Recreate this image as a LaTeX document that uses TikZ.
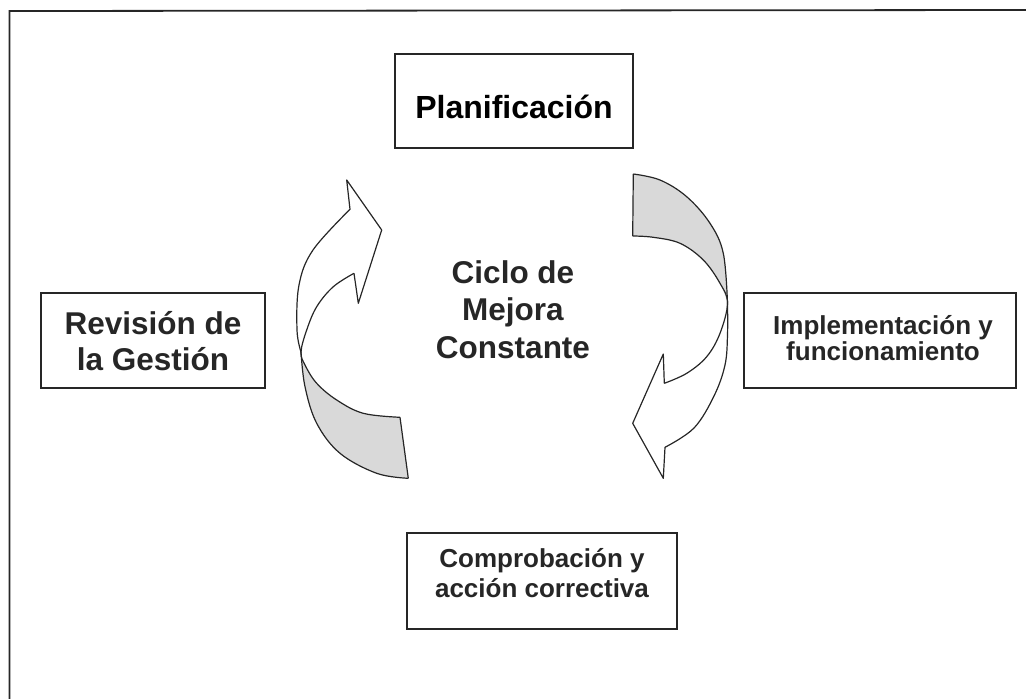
\documentclass[tikz,border=0pt]{standalone}
\usepackage{fontspec}
\setmainfont{Liberation Sans}
\begin{document}
\begin{tikzpicture}[x=1pt,y=-1pt,
  box/.style={draw=black!85,line width=1.3pt,inner sep=0pt},
  lbl/.style={anchor=base,inner sep=0pt,text=black!85,font=\bfseries\fontsize{31.5}{36}\selectfont},
  lblsm/.style={anchor=base,inner sep=0pt,text=black!85,font=\bfseries\fontsize{26}{30}\selectfont},
  arrowline/.style={draw=black!85,line width=1.2pt,line join=round},
  band/.style={fill=black!15}]
\useasboundingbox (0,0) rectangle (1026,699);
% open frame
\coordinate (fTL) at (9.5,11);
\coordinate (fTR) at (1026,10);
\coordinate (fBL) at (9.5,699);
\draw[line width=1.8pt,black!85] (fTR) -- (fTL) -- (fBL);

% boxes
\node[box,minimum width=238,minimum height=94] (plan) at (514,101) {};
\node[anchor=base,inner sep=0pt,font=\bfseries\fontsize{32}{36}\selectfont] (plant) at (514,118) {Planificación};

\node[box,minimum width=224,minimum height=95] (rev) at (153,340.5) {};
\node[lbl] (rev1) at (153,334) {Revisión de};
\node[lbl] (rev2) at (153,370) {la Gestión};

\node[box,minimum width=272,minimum height=95] (imp) at (880,340.5) {};
\node[lblsm] (imp1) at (883,334) {Implementación y};
\node[lblsm] (imp2) at (883,360) {funcionamiento};

\node[box,minimum width=270,minimum height=96] (comp) at (542,581) {};
\node[lblsm] (comp1) at (542,567) {Comprobación y};
\node[lblsm] (comp2) at (542,597) {acción correctiva};

\node[lbl] (cic1) at (513,283) {Ciclo de};
\node[lbl] (cic2) at (513,320.5) {Mejora};
\node[lbl] (cic3) at (513,358) {Constante};

% left arrow (up, toward Planificacion)
\coordinate (LC) at (301,352);
\coordinate (LB1) at (408.3,478.3);
\coordinate (LB2) at (400,417.3);
\fill[band] plot[smooth,tension=0.6] coordinates {(408.3,478.3) (376.7,473.3) (340,453.3) (316.7,423.3) (305,386.7) (301,352)}
  -- plot[smooth,tension=0.6] coordinates {(301,352) (305,365) (316.7,383.3) (336.7,400) (363.3,413.3) (400,417.3)} -- cycle;
\draw[arrowline] plot[smooth,tension=0.6] coordinates {(408.3,478.3) (376.7,473.3) (340,453.3) (316.7,423.3) (305,386.7) (301,352)};
\draw[arrowline] plot[smooth,tension=0.6] coordinates {(301,352) (297,330) (299,285) (313,250) (350,209.3)}
  -- (346.7,180) -- (381.7,230) -- (358.3,303.3) -- (354,273.3);
\draw[arrowline] plot[smooth,tension=0.6] coordinates {(354,273.3) (333.3,286.7) (316.7,306.7) (306.7,330) (301,352) (305,365) (316.7,383.3) (336.7,400) (363.3,413.3) (400,417.3)};
\draw[arrowline] (LB2) -- (LB1);

% right arrow (down, toward Comprobacion)
\coordinate (RC) at (727.5,303);
\coordinate (RT1) at (633.3,174);
\coordinate (RT2) at (632.7,236);
\fill[band] plot[smooth,tension=0.6] coordinates {(633.3,174) (660,180) (686.7,196.7) (710,223.3) (723.3,253.3) (727.5,303)}
  -- plot[smooth,tension=0.6] coordinates {(727.5,303) (720,283.3) (703.3,260) (680,243.3) (653.3,237.3) (632.7,236)} -- cycle;
\draw[arrowline] plot[smooth,tension=0.6] coordinates {(633.3,174) (660,180) (686.7,196.7) (710,223.3) (723.3,253.3) (727.5,303)};
\draw[arrowline] plot[smooth,tension=0.6] coordinates {(727.5,303) (727.5,335) (725,365) (714,396) (694,428) (665,447.3)}
  -- (663.3,478.3) -- (632.7,423.3) -- (663.3,354) -- (664.3,383.3);
\draw[arrowline] plot[smooth,tension=0.6] coordinates {(664.3,383.3) (686.7,373.3) (706.7,356.7) (720,333.3) (727.5,303) (720,283.3) (703.3,260) (680,243.3) (653.3,237.3) (632.7,236)};
\draw[arrowline] (RT1) -- (RT2);
\end{tikzpicture}
\end{document}
